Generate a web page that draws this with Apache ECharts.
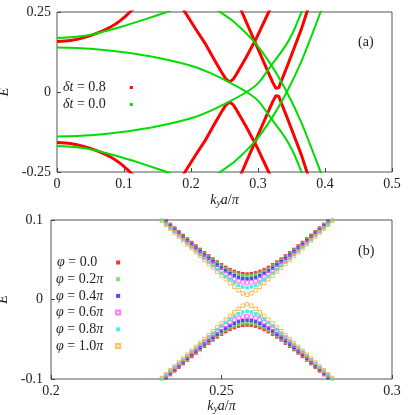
<!DOCTYPE html>
<html>
<head>
<meta charset="utf-8">
<script src="https://cdn.jsdelivr.net/npm/echarts@6/dist/echarts.min.js"></script>
<style>
  html, body { margin: 0; padding: 0; background: #fff; }
  #chart { width: 415px; height: 415px; }
</style>
</head>
<body>
<div id="chart"></div>
<script>
// panel (a): bands, [k_y a/pi, E]
// dt = 0.8 (red)
const redOuterUp = [[0, 0.158], [0.02, 0.161], [0.04, 0.170], [0.06, 0.184], [0.08, 0.203], [0.095, 0.224], [0.109, 0.25], [0.117, 0.265]]
const redOuterDn = [[0, -0.158], [0.02, -0.161], [0.04, -0.170], [0.06, -0.184], [0.08, -0.203], [0.095, -0.224], [0.109, -0.25], [0.117, -0.265]]
const redV1Up = [[0.186, 0.266], [0.191, 0.25], [0.206, 0.2], [0.221, 0.152], [0.235, 0.1], [0.245, 0.064], [0.251, 0.044], [0.2555, 0.034], [0.259, 0.033], [0.263, 0.04], [0.268, 0.056], [0.282, 0.107], [0.298, 0.17], [0.316, 0.25], [0.32, 0.266]]
const redV1Dn = [[0.186, -0.266], [0.191, -0.25], [0.206, -0.2], [0.221, -0.152], [0.235, -0.1], [0.245, -0.064], [0.251, -0.044], [0.2555, -0.034], [0.259, -0.033], [0.263, -0.04], [0.268, -0.056], [0.282, -0.107], [0.298, -0.17], [0.316, -0.25], [0.32, -0.266]]
const redV2Up = [[0.273, 0.266], [0.276, 0.25], [0.286, 0.202], [0.296, 0.154], [0.306, 0.106], [0.316, 0.058], [0.322, 0.03], [0.3265, 0.012], [0.3285, 0.009], [0.331, 0.013], [0.335, 0.035], [0.345, 0.088], [0.355, 0.143], [0.365, 0.198], [0.373, 0.25], [0.376, 0.266]]
const redV2Dn = [[0.273, -0.266], [0.276, -0.25], [0.286, -0.202], [0.296, -0.154], [0.306, -0.106], [0.316, -0.058], [0.322, -0.03], [0.3265, -0.012], [0.3285, -0.009], [0.331, -0.013], [0.335, -0.035], [0.345, -0.088], [0.355, -0.143], [0.365, -0.198], [0.373, -0.25], [0.376, -0.266]]
// dt = 0.0 (green)
const greenOuterUp = [[0, 0.169], [0.02, 0.171], [0.046, 0.177], [0.07, 0.189], [0.096, 0.204], [0.131, 0.227], [0.164, 0.25], [0.18, 0.262]]
const greenOuterDn = [[0, -0.169], [0.02, -0.171], [0.046, -0.177], [0.07, -0.189], [0.096, -0.204], [0.131, -0.227], [0.164, -0.25], [0.18, -0.262]]
const greenInnerUp = [[0, 0.139], [0.05, 0.135], [0.1, 0.124], [0.15, 0.107], [0.2, 0.082], [0.23, 0.058], [0.26, 0.027], [0.283, 0.0], [0.3, -0.027], [0.318, -0.078], [0.341, -0.144], [0.353, -0.19], [0.365, -0.25], [0.368, -0.266]]
const greenInnerDn = [[0, -0.139], [0.05, -0.135], [0.1, -0.124], [0.15, -0.107], [0.2, -0.082], [0.23, -0.058], [0.26, -0.027], [0.283, 0.0], [0.3, 0.027], [0.318, 0.078], [0.341, 0.144], [0.353, 0.19], [0.365, 0.25], [0.368, 0.266]]
const greenCrossUp = [[0.233, 0.266], [0.2435, 0.25], [0.266, 0.216], [0.296, 0.153], [0.321, 0.08], [0.343, 0.0], [0.363, -0.087], [0.378, -0.165], [0.3935, -0.25], [0.397, -0.266]]
const greenCrossDn = [[0.233, -0.266], [0.2435, -0.25], [0.266, -0.216], [0.296, -0.153], [0.321, -0.08], [0.343, 0.0], [0.363, 0.087], [0.378, 0.165], [0.3935, 0.25], [0.397, 0.266]]

// panel (b): k grid shared by all phi
const kGrid = [0.2325, 0.23375, 0.235, 0.23625, 0.2375, 0.23875, 0.24, 0.24125, 0.2425, 0.24375, 0.245, 0.24625, 0.2475, 0.24875, 0.25, 0.25125, 0.2525, 0.25375, 0.255, 0.25625, 0.2575, 0.25875, 0.26, 0.26125, 0.2625, 0.26375, 0.265, 0.26625, 0.2675, 0.26875, 0.27, 0.27125, 0.2725, 0.27375, 0.275, 0.27625, 0.2775, 0.27875, 0.28, 0.28125, 0.2825]
const phi00Up = [0.1038, 0.0991, 0.0945, 0.0898, 0.0852, 0.0807, 0.0762, 0.0717, 0.0673, 0.0630, 0.0588, 0.0548, 0.0508, 0.0471, 0.0436, 0.0404, 0.0376, 0.0353, 0.0335, 0.0324, 0.0320, 0.0324, 0.0335, 0.0353, 0.0376, 0.0404, 0.0436, 0.0471, 0.0508, 0.0548, 0.0588, 0.0630, 0.0673, 0.0717, 0.0762, 0.0807, 0.0852, 0.0898, 0.0945, 0.0991, 0.1038]
const phi00Dn = [-0.1038, -0.0991, -0.0945, -0.0898, -0.0852, -0.0807, -0.0762, -0.0717, -0.0673, -0.0630, -0.0588, -0.0548, -0.0508, -0.0471, -0.0436, -0.0404, -0.0376, -0.0353, -0.0335, -0.0324, -0.0320, -0.0324, -0.0335, -0.0353, -0.0376, -0.0404, -0.0436, -0.0471, -0.0508, -0.0548, -0.0588, -0.0630, -0.0673, -0.0717, -0.0762, -0.0807, -0.0852, -0.0898, -0.0945, -0.0991, -0.1038]
const phi02Up = [0.1032, 0.0985, 0.0938, 0.0891, 0.0845, 0.0799, 0.0754, 0.0709, 0.0664, 0.0621, 0.0578, 0.0536, 0.0496, 0.0458, 0.0422, 0.0389, 0.0359, 0.0335, 0.0316, 0.0304, 0.0300, 0.0304, 0.0316, 0.0335, 0.0359, 0.0389, 0.0422, 0.0458, 0.0496, 0.0536, 0.0578, 0.0621, 0.0664, 0.0709, 0.0754, 0.0799, 0.0845, 0.0891, 0.0938, 0.0985, 0.1032]
const phi02Dn = [-0.1032, -0.0985, -0.0938, -0.0891, -0.0845, -0.0799, -0.0754, -0.0709, -0.0664, -0.0621, -0.0578, -0.0536, -0.0496, -0.0458, -0.0422, -0.0389, -0.0359, -0.0335, -0.0316, -0.0304, -0.0300, -0.0304, -0.0316, -0.0335, -0.0359, -0.0389, -0.0422, -0.0458, -0.0496, -0.0536, -0.0578, -0.0621, -0.0664, -0.0709, -0.0754, -0.0799, -0.0845, -0.0891, -0.0938, -0.0985, -0.1032]
const phi04Up = [0.1021, 0.0974, 0.0926, 0.0879, 0.0832, 0.0785, 0.0739, 0.0693, 0.0647, 0.0602, 0.0558, 0.0515, 0.0473, 0.0433, 0.0394, 0.0359, 0.0327, 0.0299, 0.0278, 0.0265, 0.0260, 0.0265, 0.0278, 0.0299, 0.0327, 0.0359, 0.0394, 0.0433, 0.0473, 0.0515, 0.0558, 0.0602, 0.0647, 0.0693, 0.0739, 0.0785, 0.0832, 0.0879, 0.0926, 0.0974, 0.1021]
const phi04Dn = [-0.1021, -0.0974, -0.0926, -0.0879, -0.0832, -0.0785, -0.0739, -0.0693, -0.0647, -0.0602, -0.0558, -0.0515, -0.0473, -0.0433, -0.0394, -0.0359, -0.0327, -0.0299, -0.0278, -0.0265, -0.0260, -0.0265, -0.0278, -0.0299, -0.0327, -0.0359, -0.0394, -0.0433, -0.0473, -0.0515, -0.0558, -0.0602, -0.0647, -0.0693, -0.0739, -0.0785, -0.0832, -0.0879, -0.0926, -0.0974, -0.1021]
const phi06Up = [0.1010, 0.0961, 0.0913, 0.0865, 0.0817, 0.0770, 0.0723, 0.0675, 0.0629, 0.0582, 0.0537, 0.0492, 0.0447, 0.0404, 0.0363, 0.0324, 0.0288, 0.0257, 0.0232, 0.0216, 0.0210, 0.0216, 0.0232, 0.0257, 0.0288, 0.0324, 0.0363, 0.0404, 0.0447, 0.0492, 0.0537, 0.0582, 0.0629, 0.0675, 0.0723, 0.0770, 0.0817, 0.0865, 0.0913, 0.0961, 0.1010]
const phi06Dn = [-0.1010, -0.0961, -0.0913, -0.0865, -0.0817, -0.0770, -0.0723, -0.0675, -0.0629, -0.0582, -0.0537, -0.0492, -0.0447, -0.0404, -0.0363, -0.0324, -0.0288, -0.0257, -0.0232, -0.0216, -0.0210, -0.0216, -0.0232, -0.0257, -0.0288, -0.0324, -0.0363, -0.0404, -0.0447, -0.0492, -0.0537, -0.0582, -0.0629, -0.0675, -0.0723, -0.0770, -0.0817, -0.0865, -0.0913, -0.0961, -0.1010]
const phi08Up = [0.0999, 0.0950, 0.0901, 0.0853, 0.0804, 0.0756, 0.0707, 0.0659, 0.0611, 0.0564, 0.0516, 0.0469, 0.0423, 0.0377, 0.0332, 0.0289, 0.0248, 0.0211, 0.0180, 0.0158, 0.0150, 0.0158, 0.0180, 0.0211, 0.0248, 0.0289, 0.0332, 0.0377, 0.0423, 0.0469, 0.0516, 0.0564, 0.0611, 0.0659, 0.0707, 0.0756, 0.0804, 0.0853, 0.0901, 0.0950, 0.0999]
const phi08Dn = [-0.0999, -0.0950, -0.0901, -0.0853, -0.0804, -0.0756, -0.0707, -0.0659, -0.0611, -0.0564, -0.0516, -0.0469, -0.0423, -0.0377, -0.0332, -0.0289, -0.0248, -0.0211, -0.0180, -0.0158, -0.0150, -0.0158, -0.0180, -0.0211, -0.0248, -0.0289, -0.0332, -0.0377, -0.0423, -0.0469, -0.0516, -0.0564, -0.0611, -0.0659, -0.0707, -0.0756, -0.0804, -0.0853, -0.0901, -0.0950, -0.0999]
const phi10Up = [0.0989, 0.0940, 0.0891, 0.0842, 0.0792, 0.0743, 0.0694, 0.0645, 0.0596, 0.0546, 0.0497, 0.0448, 0.0400, 0.0351, 0.0302, 0.0254, 0.0206, 0.0160, 0.0116, 0.0078, 0.0060, 0.0078, 0.0116, 0.0160, 0.0206, 0.0254, 0.0302, 0.0351, 0.0400, 0.0448, 0.0497, 0.0546, 0.0596, 0.0645, 0.0694, 0.0743, 0.0792, 0.0842, 0.0891, 0.0940, 0.0989]
const phi10Dn = [-0.0989, -0.0940, -0.0891, -0.0842, -0.0792, -0.0743, -0.0694, -0.0645, -0.0596, -0.0546, -0.0497, -0.0448, -0.0400, -0.0351, -0.0302, -0.0254, -0.0206, -0.0160, -0.0116, -0.0078, -0.0060, -0.0078, -0.0116, -0.0160, -0.0206, -0.0254, -0.0302, -0.0351, -0.0400, -0.0448, -0.0497, -0.0546, -0.0596, -0.0645, -0.0694, -0.0743, -0.0792, -0.0842, -0.0891, -0.0940, -0.0989]

const serif = 'Liberation Serif'
const ink = '#222'
const RED = '#ff0000'
const GREEN = '#00dd00'

const legendText = {
  'δt = 0.8': '{i|δt} = 0.8',
  'δt = 0.0': '{i|δt} = 0.0',
  'φ = 0.0': '{i|φ} = 0.0{p| }',
  'φ = 0.2π': '{i|φ} = 0.2{i|π}',
  'φ = 0.4π': '{i|φ} = 0.4{i|π}',
  'φ = 0.6π': '{i|φ} = 0.6{i|π}',
  'φ = 0.8π': '{i|φ} = 0.8{i|π}',
  'φ = 1.0π': '{i|φ} = 1.0{i|π}'
}

const series = []
const bands = [
  ['δt = 0.8', redOuterUp, RED, 3, 0.3], ['δt = 0.8', redOuterDn, RED, 3, 0.3],
  ['δt = 0.8', redV1Up, RED, 3, false], ['δt = 0.8', redV1Dn, RED, 3, false],
  ['δt = 0.8', redV2Up, RED, 3, false], ['δt = 0.8', redV2Dn, RED, 3, false],
  ['δt = 0.0', greenOuterUp, GREEN, 2, 0.3], ['δt = 0.0', greenOuterDn, GREEN, 2, 0.3],
  ['δt = 0.0', greenInnerUp, GREEN, 2, 0.3], ['δt = 0.0', greenInnerDn, GREEN, 2, 0.3],
  ['δt = 0.0', greenCrossUp, GREEN, 2, 0.3], ['δt = 0.0', greenCrossDn, GREEN, 2, 0.3]
]
bands.forEach(([name, data, color, width, smooth]) => {
  series.push({
    name, type: 'line', xAxisIndex: 0, yAxisIndex: 0, data, smooth,
    showSymbol: false, silent: true,
    lineStyle: { color, width }, itemStyle: { color }
  })
})

const phis = [
  ['φ = 0.0', phi00Up, phi00Dn, '#ee0000', false],
  ['φ = 0.2π', phi02Up, phi02Dn, '#55dd55', false],
  ['φ = 0.4π', phi04Up, phi04Dn, '#2222ee', false],
  ['φ = 0.6π', phi06Up, phi06Dn, '#ff55ff', true],
  ['φ = 0.8π', phi08Up, phi08Dn, '#22e6e6', false],
  ['φ = 1.0π', phi10Up, phi10Dn, '#ffaa33', true]
]
phis.forEach(([name, up, dn, color, hollow]) => {
  [up, dn].forEach(vals => {
    series.push({
      name, type: 'scatter', xAxisIndex: 1, yAxisIndex: 1, symbol: 'rect',
      symbolSize: hollow ? 3.5 : 3.5, silent: true,
      data: kGrid.map((k, i) => [k, vals[i]]),
      itemStyle: hollow
        ? { color: 'rgba(255,255,255,0)', borderColor: color, borderWidth: 1 }
        : { color }
    })
  })
})

const axisText = { fontFamily: serif, fontSize: 14, color: ink }
const rich = {
  i: { fontFamily: serif, fontSize: 14, fontStyle: 'italic', color: ink },
  s: { fontFamily: serif, fontSize: 10, fontStyle: 'italic', color: ink, verticalAlign: 'bottom', padding: [6, 0, 0, 0] },
  p: { width: 6 }
}
const kName = '{i|k}{s|y}{i|a}/{i|π}'

function xAxis(gridIndex, min, max, interval, nameGap) {
  return {
    gridIndex, type: 'value', min, max, interval,
    name: kName, nameLocation: 'middle', nameGap,
    nameTextStyle: { ...axisText, rich },
    axisLine: { show: false, onZero: false }, splitLine: { show: false },
    axisTick: { inside: true, length: 4, lineStyle: { color: '#444' } },
    axisLabel: { ...axisText, margin: 5 }
  }
}
function yAxis(gridIndex, min, max, interval, nameGap, margin) {
  return {
    gridIndex, type: 'value', min, max, interval,
    name: 'E', nameLocation: 'middle', nameGap, nameRotate: 90,
    nameTextStyle: { ...axisText, fontStyle: 'italic' },
    axisLine: { show: false, onZero: false }, splitLine: { show: false },
    axisTick: { inside: true, length: 4, lineStyle: { color: '#444' } },
    axisLabel: { ...axisText, margin }
  }
}

const legendBase = {
  orient: 'vertical', align: 'right', icon: 'rect',
  selectedMode: false,
  formatter: name => legendText[name],
  textStyle: { ...axisText, lineHeight: 15, rich: {
    i: { ...rich.i, lineHeight: 15 }, p: rich.p
  } }
}

const option = {
  animation: false,
  backgroundColor: '#fff',
  grid: [
    { left: 57, top: 12, width: 335, height: 160, show: true, borderColor: '#555', borderWidth: 1, outerBoundsMode: 'none', containLabel: false },
    { left: 51, top: 220, width: 341, height: 159, show: true, borderColor: '#555', borderWidth: 1, outerBoundsMode: 'none', containLabel: false }
  ],
  xAxis: [xAxis(0, 0, 0.5, 0.1, 20), xAxis(1, 0.2, 0.3, 0.05, 17)],
  yAxis: [yAxis(0, -0.25, 0.25, 0.25, 37, 6), yAxis(1, -0.1, 0.1, 0.1, 31, 8)],
  legend: [
    { ...legendBase, data: ['δt = 0.8', 'δt = 0.0'], left: 58, top: 75,
      itemWidth: 3, itemHeight: 3, itemGap: 2,
      textStyle: { ...legendBase.textStyle, padding: [0, 19, 0, 0] } },
    { ...legendBase, data: ['φ = 0.0', 'φ = 0.2π', 'φ = 0.4π', 'φ = 0.6π', 'φ = 0.8π', 'φ = 1.0π'],
      left: 51, top: 250, itemWidth: 4, itemHeight: 4, itemGap: 1.7,
      textStyle: { ...legendBase.textStyle, padding: [0, 8, 0, 0] } }
  ],
  graphic: [
    { type: 'text', left: 358, top: 35, style: { text: '(a)', font: '14px "Liberation Serif"', fill: ink } },
    { type: 'text', left: 358, top: 244, style: { text: '(b)', font: '14px "Liberation Serif"', fill: ink } }
  ],
  series
}

const chart = echarts.init(document.getElementById('chart'))
chart.setOption(option)
</script>
</body>
</html>
